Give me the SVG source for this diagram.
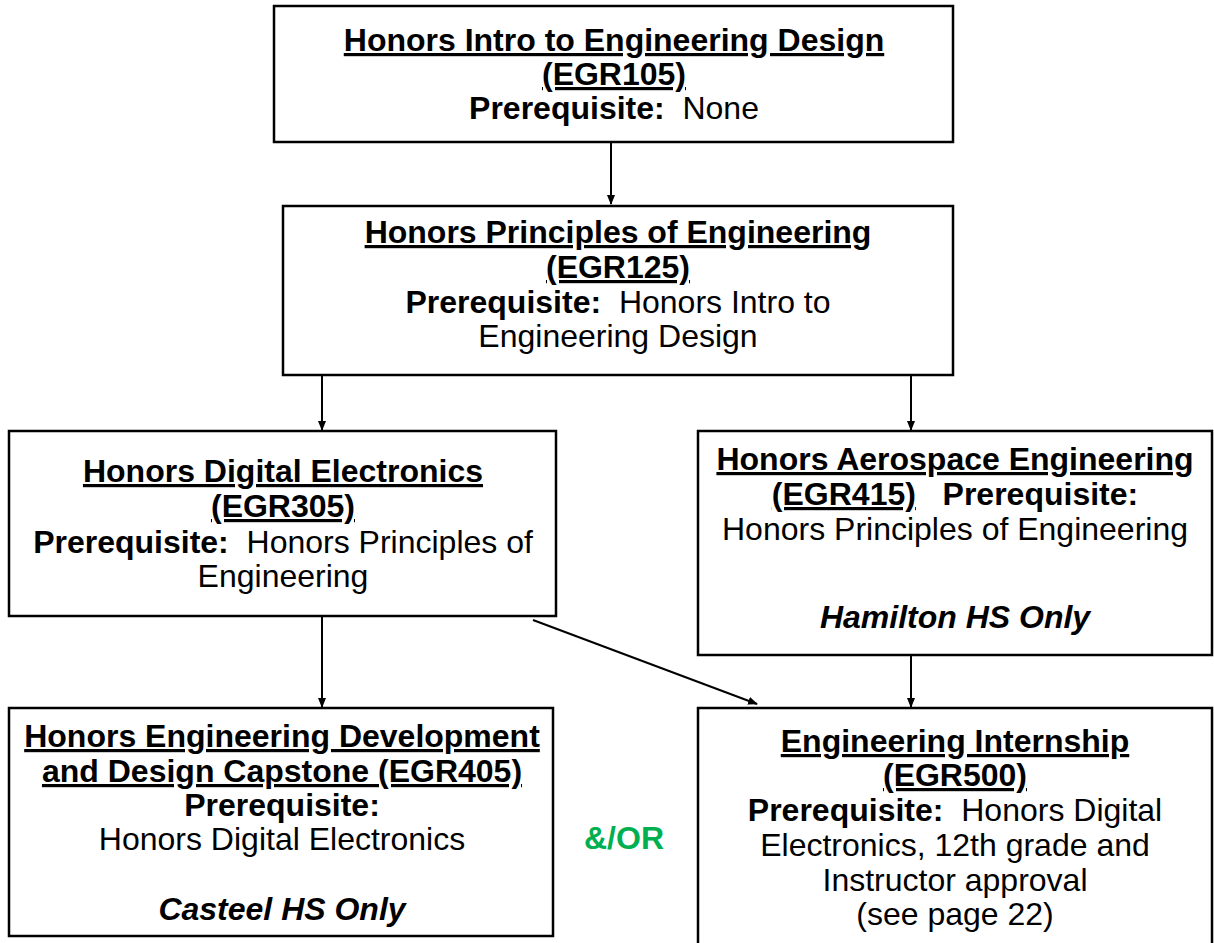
<svg xmlns="http://www.w3.org/2000/svg" width="1214" height="943" viewBox="0 0 1214 943">
<style>
.box{fill:#fff;stroke:#000;stroke-width:2.5}
.t{font-family:"Liberation Sans",Arial,sans-serif;font-size:32px;fill:#000;text-anchor:middle}
.b{font-weight:bold}
.u{text-decoration:underline;text-decoration-thickness:3px;text-underline-offset:4px}
.i{font-style:italic;font-weight:bold}
.c{stroke:#000;stroke-width:2;fill:none}
</style>
<defs>
<marker id="ah" markerWidth="10" markerHeight="8" refX="9" refY="4" orient="auto" markerUnits="userSpaceOnUse">
<path d="M0,0 L10,4 L0,8 Z" fill="#000"/>
</marker>
</defs>
<rect width="1214" height="943" fill="#fff"/>
<g id="connectors">
<line class="c" x1="611" y1="143" x2="611" y2="204" marker-end="url(#ah)"/>
<line class="c" x1="322" y1="376" x2="322" y2="430" marker-end="url(#ah)"/>
<line class="c" x1="911" y1="376" x2="911" y2="430" marker-end="url(#ah)"/>
<line class="c" x1="322" y1="617" x2="322" y2="707" marker-end="url(#ah)"/>
<line class="c" x1="533" y1="620" x2="757" y2="704" marker-end="url(#ah)"/>
<line class="c" x1="911" y1="656" x2="911" y2="707" marker-end="url(#ah)"/>
</g>
<g id="egr105">
<rect class="box" x="274" y="6" width="679" height="136"/>
<text class="t" x="614" y="51"><tspan class="b u">Honors Intro to Engineering Design</tspan></text>
<text class="t" x="614" y="85"><tspan class="b u">(EGR105)</tspan></text>
<text class="t" x="614" y="119" xml:space="preserve"><tspan class="b">Prerequisite:</tspan>  None</text>
</g>
<g id="egr125">
<rect class="box" x="283" y="206" width="670" height="169"/>
<text class="t" x="618" y="243"><tspan class="b u">Honors Principles of Engineering</tspan></text>
<text class="t" x="618" y="278"><tspan class="b u">(EGR125)</tspan></text>
<text class="t" x="618" y="313" xml:space="preserve"><tspan class="b">Prerequisite:</tspan>  Honors Intro to</text>
<text class="t" x="618" y="347">Engineering Design</text>
</g>
<g id="egr305">
<rect class="box" x="9" y="431" width="547" height="185"/>
<text class="t" x="283" y="482"><tspan class="b u">Honors Digital Electronics</tspan></text>
<text class="t" x="283" y="517"><tspan class="b u">(EGR305)</tspan></text>
<text class="t" x="283" y="553" xml:space="preserve"><tspan class="b">Prerequisite:</tspan>  Honors Principles of</text>
<text class="t" x="283" y="587">Engineering</text>
</g>
<g id="egr415">
<rect class="box" x="698" y="431" width="514" height="224"/>
<text class="t" x="955" y="470"><tspan class="b u">Honors Aerospace Engineering</tspan></text>
<text class="t" x="955" y="505" xml:space="preserve"><tspan class="b u">(EGR415)</tspan><tspan class="b">   Prerequisite:</tspan></text>
<text class="t" x="955" y="540">Honors Principles of Engineering</text>
<text class="t i" x="955" y="628">Hamilton HS Only</text>
</g>
<g id="egr405">
<rect class="box" x="9" y="708" width="544" height="228"/>
<text class="t" x="282" y="747"><tspan class="b u">Honors Engineering Development</tspan></text>
<text class="t" x="282" y="782"><tspan class="b u">and Design Capstone (EGR405)</tspan></text>
<text class="t b" x="282" y="816">Prerequisite:</text>
<text class="t" x="282" y="850">Honors Digital Electronics</text>
<text class="t i" x="282" y="920">Casteel HS Only</text>
</g>
<g id="andor">
<text class="t b" x="624" y="849" style="fill:#00B050">&amp;/OR</text>
</g>
<g id="egr500">
<rect class="box" x="698" y="708" width="514" height="260"/>
<text class="t" x="955" y="752"><tspan class="b u">Engineering Internship</tspan></text>
<text class="t" x="955" y="786"><tspan class="b u">(EGR500)</tspan></text>
<text class="t" x="955" y="821" xml:space="preserve"><tspan class="b">Prerequisite:</tspan>  Honors Digital</text>
<text class="t" x="955" y="856">Electronics, 12th grade and</text>
<text class="t" x="955" y="891">Instructor approval</text>
<text class="t" x="955" y="925">(see page 22)</text>
</g>
</svg>
